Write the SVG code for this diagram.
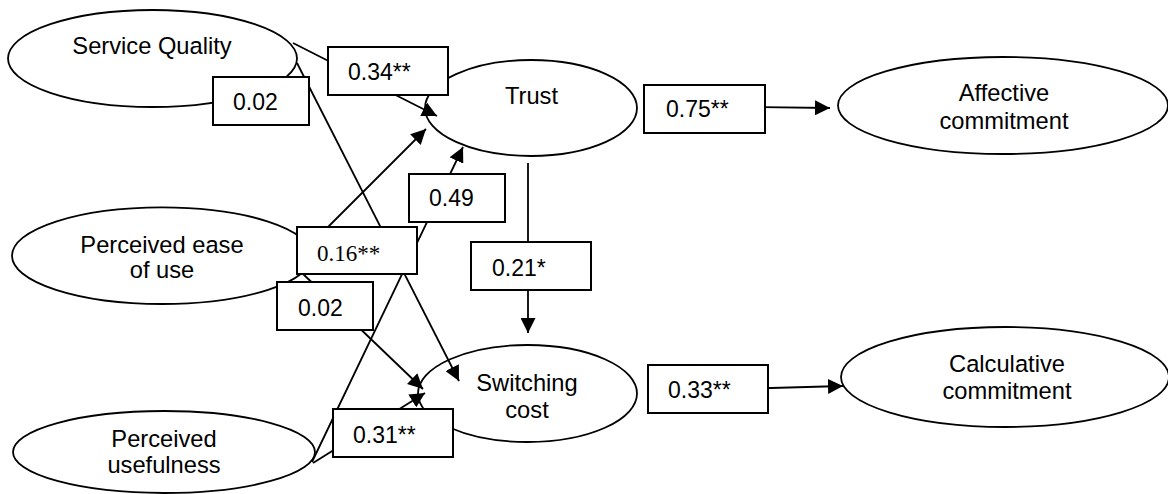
<svg xmlns="http://www.w3.org/2000/svg" width="1168" height="494" viewBox="0 0 1168 494">
<style>
.node ellipse{fill:#fff;stroke:#000;stroke-width:1.8}
.node text{font-family:"Liberation Sans",Arial,sans-serif;font-size:23.7px;fill:#000;text-anchor:middle}
.conn line{stroke:#000;stroke-width:1.8;fill:none}
.arr{marker-end:url(#ah)}
.lbl rect{fill:#fff;stroke:#000;stroke-width:2}
.lbl text{font-family:"Liberation Sans",Arial,sans-serif;font-size:23px;fill:#000}
.lbl text.serif{font-family:"Liberation Serif","Times New Roman",serif}
</style>
<defs>
<marker id="ah" viewBox="0 0 15 15" refX="15" refY="7.5" markerWidth="15" markerHeight="15" markerUnits="userSpaceOnUse" orient="auto">
<path d="M0,0 L15,7.5 L0,15 Z" fill="#000"/>
</marker>
</defs>
<g id="sq" class="node"><ellipse cx="152.5" cy="58.5" rx="144.5" ry="48.5"/><text x="152" y="54">Service Quality</text></g>
<g id="trust" class="node"><ellipse cx="531" cy="108" rx="106" ry="48"/><text x="531.5" y="104">Trust</text></g>
<g id="affective" class="node"><ellipse cx="1003" cy="105.5" rx="165" ry="48.5"/><text x="1004" y="101">Affective</text><text x="1004" y="129">commitment</text></g>
<g id="peou" class="node"><ellipse cx="162" cy="255.7" rx="150" ry="48.3"/><text x="162" y="253">Perceived ease</text><text x="162" y="278">of use</text></g>
<g id="pu" class="node"><ellipse cx="164" cy="452" rx="151" ry="41"/><text x="164" y="447">Perceived</text><text x="164" y="473">usefulness</text></g>
<g id="sc" class="node"><ellipse cx="527.5" cy="393.5" rx="109.5" ry="48.5"/><text x="527" y="391">Switching</text><text x="527" y="418">cost</text></g>
<g id="calc" class="node"><ellipse cx="1005" cy="377" rx="164" ry="50"/><text x="1007" y="372">Calculative</text><text x="1007" y="399">commitment</text></g>
<g id="connectors" class="conn">
<line class="arr" x1="293" y1="43" x2="437" y2="116"/>
<line class="arr" x1="297" y1="63" x2="459" y2="381"/>
<line class="arr" x1="312" y1="243" x2="426" y2="129"/>
<line class="arr" x1="302" y1="273" x2="423" y2="389"/>
<line class="arr" x1="312" y1="462" x2="463" y2="147"/>
<line class="arr" x1="313" y1="463" x2="425" y2="393"/>
<line class="arr" x1="528" y1="163" x2="528" y2="333"/>
<line class="arr" x1="700" y1="106.5" x2="830" y2="108"/>
<line class="arr" x1="700" y1="390" x2="843" y2="386"/>
</g>
<g id="labels" class="lbl">
<g id="l034"><rect x="328" y="47" width="120" height="48"/><text x="348" y="80">0.34**</text></g>
<g id="l002a"><rect x="213" y="77" width="96" height="48"/><text x="233" y="110">0.02</text></g>
<g id="l075"><rect x="644" y="85" width="121" height="48"/><text x="666" y="117">0.75**</text></g>
<g id="l049"><rect x="409" y="174" width="96" height="48"/><text x="429" y="206">0.49</text></g>
<g id="l016"><rect x="297" y="227" width="120" height="47"/><text class="serif" x="317" y="261">0.16**</text></g>
<g id="l021"><rect x="471" y="242" width="120" height="48"/><text x="492" y="276">0.21*</text></g>
<g id="l002b"><rect x="277" y="282" width="96" height="48"/><text x="298" y="316">0.02</text></g>
<g id="l031"><rect x="333" y="409" width="120" height="48"/><text x="353" y="443">0.31**</text></g>
<g id="l033"><rect x="648" y="365" width="120" height="48"/><text x="668" y="398">0.33**</text></g>
</g>
</svg>
